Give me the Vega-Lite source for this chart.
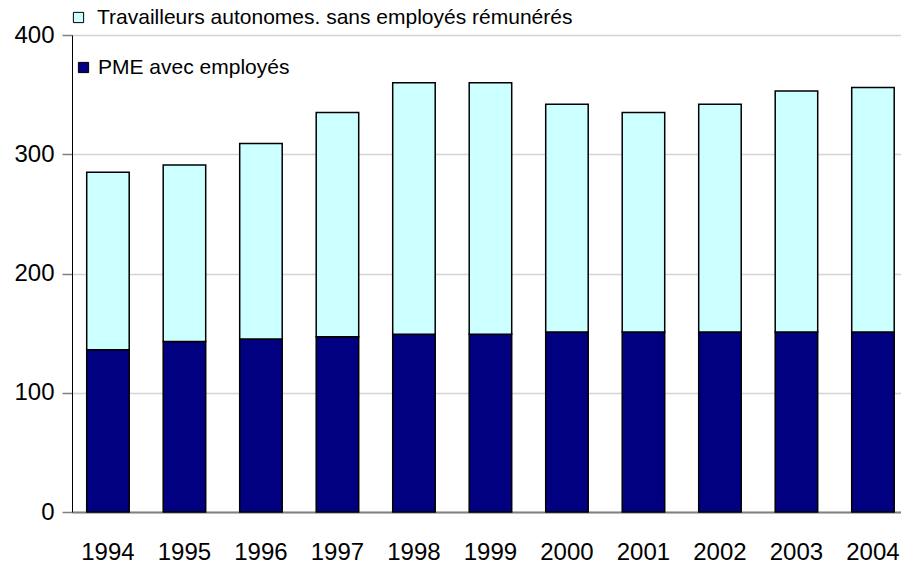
{
  "$schema": "https://vega.github.io/schema/vega-lite/v6.json",
  "autosize": {"type": "none"},
  "padding": {"left": 72, "top": 35, "right": 0, "bottom": 51},
  "width": 829,
  "height": 477,
  "background": "white",
  "config": {
    "view": {"stroke": null},
    "font": "Liberation Sans",
    "legend": {"labelFont": "Liberation Sans", "labelFontSize": 21, "labelColor": "black", "labelLimit": 1000, "padding": 0, "symbolType": "square", "symbolSize": 105, "symbolStrokeColor": "black", "symbolStrokeWidth": 1, "rowPadding": 0}
  },
  "data": {
    "values": [
      {"year": "1994", "pme": 136, "total": 285},
      {"year": "1995", "pme": 143, "total": 291},
      {"year": "1996", "pme": 145, "total": 309},
      {"year": "1997", "pme": 147, "total": 335},
      {"year": "1998", "pme": 149, "total": 360},
      {"year": "1999", "pme": 149, "total": 360},
      {"year": "2000", "pme": 151, "total": 342},
      {"year": "2001", "pme": 151, "total": 335},
      {"year": "2002", "pme": 151, "total": 342},
      {"year": "2003", "pme": 151, "total": 353},
      {"year": "2004", "pme": 151, "total": 356}
    ]
  },
  "encoding": {
    "x": {
      "field": "year", "type": "nominal",
      "scale": {"paddingInner": 0.4444, "paddingOuter": 0.1405, "align": 0.684},
      "axis": {"title": null, "labelAngle": 0, "labelFontSize": 24, "labelColor": "black", "labelPadding": 28, "ticks": false, "domainColor": "#808080", "domainWidth": 2, "grid": false, "labelFont": "Liberation Sans"}
    }
  },
  "layer": [
    {
      "mark": {"type": "bar", "stroke": "black", "strokeWidth": 1.5},
      "encoding": {
        "y": {
          "field": "pme", "type": "quantitative",
          "scale": {"domain": [0, 400], "nice": false},
          "axis": {"title": null, "values": [0, 100, 200, 300, 400], "labelFontSize": 24, "labelColor": "black", "labelPadding": 8, "tickSize": 10, "tickColor": "#808080", "tickWidth": 1.5, "domainColor": "black", "domainWidth": 1, "gridColor": "#d4d4d4", "gridWidth": 1.5, "labelFont": "Liberation Sans"}
        },
        "y2": {"datum": 0},
        "color": {
          "datum": "PME avec employés",
          "scale": {"domain": ["PME avec employés"], "range": ["#000080"]},
          "legend": {"title": null, "orient": "none", "legendX": 1, "legendY": 22, "labelOffset": 4}
        }
      }
    },
    {
      "mark": {"type": "bar", "stroke": "black", "strokeWidth": 1.5},
      "encoding": {
        "y": {"field": "pme", "type": "quantitative"},
        "y2": {"field": "total"},
        "color": {
          "datum": "Travailleurs autonomes. sans employés rémunérés",
          "scale": {"domain": ["Travailleurs autonomes. sans employés rémunérés"], "range": ["#ccffff"]},
          "legend": {"title": null, "orient": "none", "legendX": -4, "legendY": -28, "labelOffset": 8}
        }
      }
    }
  ],
  "resolve": {"scale": {"color": "independent"}, "legend": {"color": "independent"}}
}
